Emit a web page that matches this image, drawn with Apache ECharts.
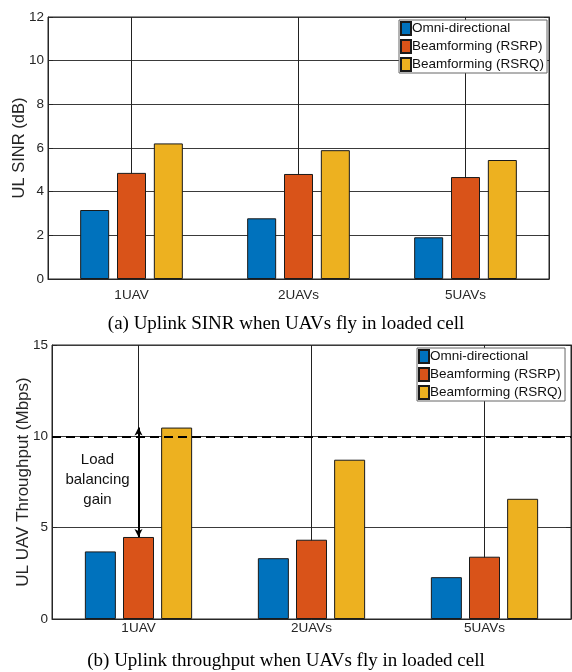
<!DOCTYPE html>
<html>
<head>
<meta charset="utf-8">
<script src="https://cdn.jsdelivr.net/npm/echarts@6/dist/echarts.min.js"></script>
<style>html,body{margin:0;padding:0;background:#fff}#c{width:572px;height:672px}</style>
</head>
<body>
<div id="c"></div>
<script>
const categories = ['1UAV', '2UAVs', '5UAVs'];
const seriesNames = ['Omni-directional', 'Beamforming (RSRP)', 'Beamforming (RSRQ)'];
const sinrOmni = [3.16, 2.78, 1.91];
const sinrRSRP = [4.86, 4.81, 4.67];
const sinrRSRQ = [6.21, 5.90, 5.45];
const thrOmni = [3.70, 3.33, 2.29];
const thrRSRP = [4.49, 4.34, 3.41];
const thrRSRQ = [10.48, 8.72, 6.58];
const loadLimit = 10;
const colors = ['#0072BD', '#D95319', '#EDB120'];

const sans = 'Liberation Sans, Arial, Helvetica, sans-serif';
const serif = 'Liberation Serif, Times New Roman, serif';
const txt = '#262626';

const chart = echarts.init(document.getElementById('c'));

function xAx(gi, margin) {
  return {
    type: 'category', gridIndex: gi, data: categories,
    axisLine: {show: true, lineStyle: {color: txt, width: 1}},
    axisTick: {show: true, inside: true, alignWithLabel: true, length: 5, lineStyle: {color: txt}},
    axisLabel: {color: txt, fontFamily: sans, fontSize: 13.5, margin: margin},
    splitLine: {show: true, alignWithLabel: true, lineStyle: {color: '#222', width: 1}}
  };
}
function yAx(gi, max, interval, name, gap, nameSize) {
  return {
    type: 'value', gridIndex: gi, min: 0, max: max, interval: interval,
    name: name, nameLocation: 'middle', nameGap: gap, nameMoveOverlap: false,
    nameTextStyle: {color: txt, fontFamily: sans, fontSize: nameSize},
    axisLine: {show: true, lineStyle: {color: txt, width: 1}},
    axisTick: {show: true, inside: true, length: 5, lineStyle: {color: txt}},
    axisLabel: {color: txt, fontFamily: sans, fontSize: 13.5, margin: 4},
    splitLine: {show: true, lineStyle: {color: '#3a3a3a', width: 1}}
  };
}
function yRight(gi, max, interval) {
  return {
    type: 'value', gridIndex: gi, min: 0, max: max, interval: interval, position: 'right',
    axisLine: {show: true, lineStyle: {color: txt, width: 1}},
    axisTick: {show: true, inside: true, length: 5, lineStyle: {color: txt}},
    axisLabel: {show: false}, splitLine: {show: false}
  };
}
function bar(name, data, gi, color, width, gap, extra) {
  return Object.assign({
    name: name, type: 'bar', xAxisIndex: gi, yAxisIndex: gi * 2, data: data,
    barWidth: width, barGap: gap,
    itemStyle: {color: color, borderColor: '#1a1a1a', borderWidth: 1},
    emphasis: {disabled: true}, animation: false
  }, extra || {});
}
function legend(left, top) {
  return {
    data: seriesNames, orient: 'vertical', left: left, top: top,
    itemWidth: 10, itemHeight: 13, itemGap: 3, icon: 'rect',
    padding: [1, 3, 1, 1],
    backgroundColor: '#fff', borderColor: '#666', borderWidth: 1, borderRadius: 0,
    textStyle: {color: '#111', fontFamily: sans, fontSize: 13.5, padding: [0, 0, 0, -4]},
    selectedMode: false
  };
}

const option = {
  animation: false,
  grid: [
    {left: 48, top: 17, width: 501, height: 262, show: true, borderColor: txt, borderWidth: 1,
     containLabel: false, outerBoundsMode: 'none'},
    {left: 52, top: 345, width: 519, height: 274, show: true, borderColor: txt, borderWidth: 1,
     containLabel: false, outerBoundsMode: 'none'}
  ],
  title: [
    {text: '(a) Uplink SINR when UAVs fly in loaded cell', left: 'center', top: 310,
     textStyle: {fontFamily: serif, fontSize: 19, fontWeight: 'normal', color: '#000'}},
    {text: '(b) Uplink throughput when UAVs fly in loaded cell', left: 'center', top: 647,
     textStyle: {fontFamily: serif, fontSize: 19, fontWeight: 'normal', color: '#000'}}
  ],
  legend: [legend(399, 20), legend(417, 348)],
  xAxis: [xAx(0, 9), xAx(1, 2)],
  yAxis: [yAx(0, 12, 2, 'UL SINR (dB)', 20, 16.5), yRight(0, 12, 2),
          yAx(1, 15, 5, 'UL UAV Throughput (Mbps)', 20, 17), yRight(1, 15, 5)],
  series: [
    bar(seriesNames[0], sinrOmni, 0, colors[0], 29, '27%'),
    bar(seriesNames[1], sinrRSRP, 0, colors[1], 29, '27%'),
    bar(seriesNames[2], sinrRSRQ, 0, colors[2], 29, '27%'),
    bar(seriesNames[0], thrOmni, 1, colors[0], 31, '23%', {
      markLine: {
        silent: true, animation: false, symbol: 'none', z: 5,
        label: {show: false},
        lineStyle: {color: '#000', width: 2, type: [9, 5]},
        data: [{yAxis: loadLimit}]
      }
    }),
    bar(seriesNames[1], thrRSRP, 1, colors[1], 31, '23%', {
      markPoint: {
        symbol: 'rect', symbolSize: 1, silent: true, animation: false,
        itemStyle: {color: 'rgba(0,0,0,0)', borderWidth: 0},
        data: [{coord: [categories[0], 7.6]}],
        label: {show: true, position: 'inside', formatter: 'Load\nbalancing\ngain', offset: [-41, 0], color: '#111',
                fontFamily: sans, fontSize: 15, lineHeight: 20, align: 'center', verticalAlign: 'middle'}
      },
      markLine: {
        silent: true, animation: false, symbol: ['arrow', 'arrow'], symbolSize: [6, 8], z: 5,
        label: {show: false},
        lineStyle: {color: '#000', width: 2, type: 'solid'},
        data: [[{coord: [categories[0], thrRSRQ[0]]}, {coord: [categories[0], thrRSRP[0]]}]]
      }
    }),
    bar(seriesNames[2], thrRSRQ, 1, colors[2], 31, '23%')
  ]
};
chart.setOption(option);
</script>
</body>
</html>
